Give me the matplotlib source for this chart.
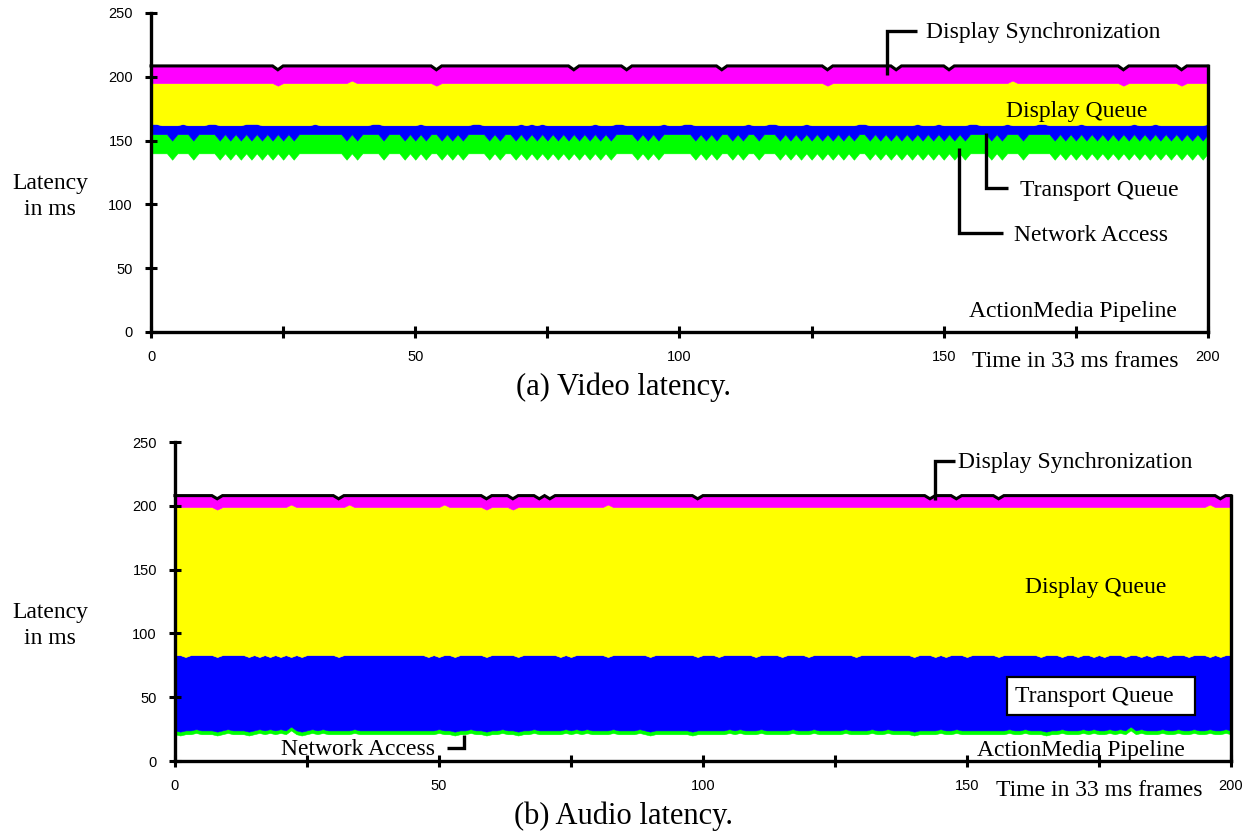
import matplotlib
matplotlib.use("Agg")
import matplotlib.pyplot as plt
import numpy as np
from matplotlib.patches import Rectangle

# ---------------- data ----------------
frames = np.arange(201)  # time in 33 ms frames, 0..200

x_ticks = [0, 25, 50, 75, 100, 125, 150, 175, 200]
x_tick_labels = ["0", "", "50", "", "100", "", "150", "", "200"]
y_ticks = [0, 50, 100, 150, 200, 250]
y_tick_labels = ["0", "50", "100", "150", "200", "250"]

layer_names = ["ActionMedia Pipeline", "Network Access", "Transport Queue",
               "Display Queue", "Display Synchronization"]
layer_colors = ["#ffffff", "#00ff00", "#0000ff", "#ffff00", "#ff00ff"]

# (a) Video latency, per-stage latency in ms
video_pipeline = [
140,140,140,140,135,140,140,140,135,140,140,140,140,135,140,135,140,135,140,135,
140,135,140,135,140,135,140,135,140,140,140,140,140,140,140,140,140,135,140,135,
140,140,140,140,135,140,140,140,135,140,135,140,135,140,140,135,140,135,140,135,
140,140,140,140,135,140,135,140,140,135,140,135,140,135,140,135,140,135,140,135,
140,135,140,135,140,135,140,135,140,140,140,140,135,140,135,140,135,140,140,140,
140,140,140,135,140,135,140,135,140,140,135,140,135,140,140,135,140,140,140,135,
140,135,140,135,140,135,140,135,140,135,140,135,140,135,140,140,135,140,135,140,
135,140,135,140,135,140,135,140,135,140,135,140,135,140,135,140,140,140,140,135,
140,135,140,140,140,135,140,140,140,140,140,135,140,135,140,135,140,135,140,135,
140,135,140,135,140,135,140,135,140,135,140,135,140,135,140,135,140,135,140,135,
140]
video_network = [
15,15,15,15,15,15,15,15,15,15,15,15,15,15,15,15,15,15,15,15,
15,15,15,15,15,15,15,15,15,15,15,15,15,15,15,15,15,15,15,15,
15,15,15,15,15,15,15,15,15,15,15,15,15,15,15,15,15,15,15,15,
15,15,15,15,15,15,15,15,15,15,15,15,15,15,15,15,15,15,15,15,
15,15,15,15,15,15,15,15,15,15,15,15,15,15,15,15,15,15,15,15,
15,15,15,15,15,15,15,15,15,15,15,15,15,15,15,15,15,15,15,15,
15,15,15,15,15,15,15,15,15,15,15,15,15,15,15,15,15,15,15,15,
15,15,15,15,15,15,15,15,15,15,15,15,15,15,15,15,15,15,15,15,
15,15,15,15,15,15,15,15,15,15,15,15,15,15,15,15,15,15,15,15,
15,15,15,15,15,15,15,15,15,15,15,15,15,15,15,15,15,15,15,15,
15]
video_transport = [
8,8,7,7,12,7,8,7,12,7,7,8,8,12,7,12,7,12,8,13,
8,12,7,12,7,12,7,12,7,7,7,8,7,7,7,7,7,12,7,12,
7,7,8,8,12,7,7,7,12,7,12,8,12,7,7,12,7,12,7,12,
7,8,8,7,12,7,12,7,7,12,8,12,8,12,8,12,7,12,7,12,
7,12,7,12,8,12,7,12,8,8,7,7,12,7,12,7,12,8,7,7,
7,8,8,12,7,12,7,12,7,7,12,7,12,8,7,12,7,8,8,12,
7,12,7,12,8,12,7,12,7,12,7,12,7,12,8,8,12,7,12,7,
12,7,12,7,12,8,12,7,12,8,12,7,12,7,12,8,8,7,7,12,
7,12,8,7,7,12,7,7,8,8,7,12,7,12,7,12,8,12,7,12,
7,12,7,12,7,12,8,12,7,12,8,12,7,12,7,12,7,12,7,12,
8]
video_display_queue = [
32,32,33,33,33,33,32,33,33,33,33,32,32,33,33,33,33,33,32,32,
32,33,33,33,31,33,33,33,33,33,33,32,33,33,33,33,33,33,35,33,
33,33,32,32,33,33,33,33,33,33,33,32,33,33,31,33,33,33,33,33,
33,32,32,33,33,33,33,33,33,33,32,33,32,33,32,33,33,33,33,33,
33,33,33,33,32,33,33,33,32,32,33,33,33,33,33,33,33,32,33,33,
33,32,32,33,33,33,33,33,33,33,33,33,33,32,33,33,33,32,32,33,
33,33,33,33,32,33,33,33,31,33,33,33,33,33,32,32,33,33,33,33,
33,33,33,33,33,32,33,33,33,32,33,33,33,33,33,32,32,33,33,33,
33,33,32,35,33,33,33,33,32,32,33,33,33,33,33,33,32,33,33,33,
33,33,33,33,31,33,32,33,33,33,32,33,33,33,33,31,33,33,33,33,
32]
video_sync = [
13.5,13.5,13.5,13.5,13.5,13.5,13.5,13.5,13.5,13.5,13.5,13.5,13.5,13.5,13.5,13.5,13.5,13.5,13.5,13.5,
13.5,13.5,13.5,13.5,12.5,13.5,13.5,13.5,13.5,13.5,13.5,13.5,13.5,13.5,13.5,13.5,13.5,13.5,11.5,13.5,
13.5,13.5,13.5,13.5,13.5,13.5,13.5,13.5,13.5,13.5,13.5,13.5,13.5,13.5,12.5,13.5,13.5,13.5,13.5,13.5,
13.5,13.5,13.5,13.5,13.5,13.5,13.5,13.5,13.5,13.5,13.5,13.5,13.5,13.5,13.5,13.5,13.5,13.5,13.5,13.5,
10.5,13.5,13.5,13.5,13.5,13.5,13.5,13.5,13.5,13.5,10.5,13.5,13.5,13.5,13.5,13.5,13.5,13.5,13.5,13.5,
13.5,13.5,13.5,13.5,13.5,13.5,13.5,13.5,10.5,13.5,13.5,13.5,13.5,13.5,13.5,13.5,13.5,13.5,13.5,13.5,
13.5,13.5,13.5,13.5,13.5,13.5,13.5,13.5,12.5,13.5,13.5,13.5,13.5,13.5,13.5,13.5,13.5,13.5,13.5,13.5,
13.5,10.5,13.5,13.5,13.5,13.5,13.5,13.5,13.5,13.5,13.5,10.5,13.5,13.5,13.5,13.5,13.5,13.5,13.5,13.5,
13.5,13.5,13.5,11.5,13.5,13.5,13.5,13.5,13.5,13.5,13.5,13.5,13.5,13.5,13.5,13.5,13.5,13.5,13.5,13.5,
13.5,13.5,13.5,13.5,12.5,13.5,13.5,13.5,13.5,13.5,13.5,13.5,13.5,13.5,13.5,12.5,13.5,13.5,13.5,13.5,
13.5]

# (b) Audio latency, per-stage latency in ms
audio_pipeline = [
21,20,21,21,22,21,21,21,20,21,22,21,21,21,20,21,22,21,22,21,
22,21,24,21,20,21,22,21,22,21,21,21,21,21,22,21,21,21,21,21,
21,21,21,21,21,21,21,21,21,21,22,21,21,20,21,21,22,21,21,20,
21,21,22,21,21,20,21,21,22,21,21,21,21,21,22,21,22,21,22,21,
21,21,21,22,21,21,21,21,22,21,20,21,21,21,21,21,21,21,20,21,
21,21,21,21,21,22,21,22,21,21,21,22,21,21,21,21,21,22,21,21,
21,22,21,21,21,21,21,22,21,21,21,21,22,21,21,22,21,21,21,21,
20,21,21,21,21,22,21,21,22,21,21,21,21,21,21,21,21,21,22,21,
21,22,21,21,21,20,21,21,22,21,21,21,22,21,22,21,21,22,21,22,
21,24,21,22,21,21,21,22,21,21,22,21,21,22,21,21,22,21,21,22,
21]
audio_network = [
3,3,3,3,3,3,3,3,3,3,3,3,3,3,3,3,3,3,3,3,
3,3,3,3,3,3,3,3,3,3,3,3,3,3,3,3,3,3,3,3,
3,3,3,3,3,3,3,3,3,3,3,3,3,3,3,3,3,3,3,3,
3,3,3,3,3,3,3,3,3,3,3,3,3,3,3,3,3,3,3,3,
3,3,3,3,3,3,3,3,3,3,3,3,3,3,3,3,3,3,3,3,
3,3,3,3,3,3,3,3,3,3,3,3,3,3,3,3,3,3,3,3,
3,3,3,3,3,3,3,3,3,3,3,3,3,3,3,3,3,3,3,3,
3,3,3,3,3,3,3,3,3,3,3,3,3,3,3,3,3,3,3,3,
3,3,3,3,3,3,3,3,3,3,3,3,3,3,3,3,3,3,3,3,
3,3,3,3,3,3,3,3,3,3,3,3,3,3,3,3,3,3,3,3,
3]
audio_transport = [
59,60,57.5,59,58,59,59,59,58.5,59,58,59,59,59,58.5,59,56.5,59,56.5,59,
56.5,59,54.5,59,58.5,59,58,59,58,59,59,57.5,59,59,58,59,59,59,59,59,
59,59,59,59,59,59,59,59,57.5,59,56.5,59,59,58.5,59,59,58,59,59,58.5,
59,59,58,59,59,58.5,59,59,58,59,59,59,59,57.5,58,57.5,58,59,58,59,
59,59,57.5,58,59,59,59,59,58,59,58.5,59,59,59,59,59,59,59,60,57.5,
59,59,59,57.5,59,58,59,58,59,59,57.5,58,59,59,59,57.5,59,58,59,59,
57.5,58,59,59,59,59,59,58,59,57.5,59,59,58,59,59,58,59,59,59,59,
58.5,59,59,59,57.5,58,57.5,59,58,59,57.5,59,59,59,59,59,57.5,59,58,59,
59,58,59,59,57.5,60,59,59,56.5,59,59,57.5,58,59,56.5,59,57.5,58,59,58,
57.5,56,59,56.5,59,57.5,59,58,57.5,59,58,59,57.5,58,59,59,56.5,59,57.5,58,
59]
audio_display_queue = [
116,116,117.5,116,116,116,116,116,115.5,116,116,116,116,116,117.5,116,117.5,116,117.5,116,
117.5,116,119.5,116,117.5,116,116,116,116,116,116,117.5,116,118,116,116,116,116,116,116,
116,116,116,116,116,116,116,116,117.5,116,117.5,118,116,117.5,116,116,116,116,116,115.5,
116,116,116,116,114,117.5,116,116,116,116,116,116,116,117.5,116,117.5,116,116,116,116,
116,116,119.5,116,116,116,116,116,116,116,117.5,116,116,116,116,116,116,116,116,117.5,
116,116,116,117.5,116,116,116,116,116,116,117.5,116,116,116,116,117.5,116,116,116,116,
117.5,116,116,116,116,116,116,116,116,117.5,116,116,116,116,116,116,116,116,116,116,
117.5,116,116,116,117.5,116,117.5,116,116,116,117.5,116,116,116,116,116,117.5,116,116,116,
116,116,116,116,117.5,116,116,116,117.5,116,116,117.5,116,116,117.5,116,117.5,116,116,116,
117.5,116,116,117.5,116,117.5,116,116,117.5,116,116,116,117.5,116,116,116,119.5,116,117.5,116,
116]
audio_sync = [
9,9,9,9,9,9,9,9,8.5,9,9,9,9,9,9,9,9,9,9,9,
9,9,7,9,9,9,9,9,9,9,9,6.5,9,7,9,9,9,9,9,9,
9,9,9,9,9,9,9,9,9,9,9,7,9,9,9,9,9,9,9,8.5,
9,9,9,9,8.5,9,9,9,9,6.5,9,6.5,9,9,9,9,9,9,9,9,
9,9,7,9,9,9,9,9,9,9,9,9,9,9,9,9,9,9,9,6.5,
9,9,9,9,9,9,9,9,9,9,9,9,9,9,9,9,9,9,9,9,
9,9,9,9,9,9,9,9,9,9,9,9,9,9,9,9,9,9,9,9,
9,9,9,6.5,9,9,9,9,6.5,9,9,9,9,9,9,9,6.5,9,9,9,
9,9,9,9,9,9,9,9,9,9,9,9,9,9,9,9,9,9,9,9,
9,9,9,9,9,9,9,9,9,9,9,9,9,9,9,9,7,9,6.5,9,
9]

# ---------------- figure ----------------
SERIF = "Liberation Serif"
SANS = "Liberation Sans"
ANN = 17

fig = plt.figure(figsize=(12.47, 8.31), dpi=100)
ax1 = fig.add_axes([0.1211, 0.6005, 0.8476, 0.3839])
ax2 = fig.add_axes([0.1403, 0.0842, 0.8468, 0.3839])


def draw_stack(ax, layers):
    ax.stackplot(frames, *layers, colors=layer_colors, labels=layer_names,
                 linewidth=0.4, edgecolor="face")
    total = np.sum(np.array(layers, dtype=float), axis=0)
    ax.plot(frames, total, color="black", lw=2.2, solid_joinstyle="miter",
            clip_on=False, zorder=3)
    ax.plot([frames[-1], frames[-1]], [0, total[-1]], color="black", lw=2.4,
            clip_on=False, zorder=3)


def style(ax):
    ax.set_xlim(0, 200)
    ax.set_ylim(0, 250)
    for sp in ["top", "right"]:
        ax.spines[sp].set_visible(False)
    for sp in ["left", "bottom"]:
        ax.spines[sp].set_linewidth(2.4)
    ax.set_xticks(x_ticks)
    ax.set_xticklabels(x_tick_labels)
    ax.set_yticks(y_ticks)
    ax.set_yticklabels(y_tick_labels)
    ax.tick_params(direction="inout", length=8, width=2.2, labelsize=10.5, pad=9)
    for lab in ax.get_xticklabels() + ax.get_yticklabels():
        lab.set_fontfamily(SANS)


def leader(ax, xs, ys):
    ax.plot(xs, ys, color="black", lw=2.4, clip_on=False, zorder=4,
            solid_joinstyle="miter", solid_capstyle="butt")


def label(ax, x, y, s, ha="left"):
    ax.text(x, y, s, fontsize=ANN, family=SERIF, ha=ha, va="baseline",
            clip_on=False, zorder=5)


# ---- (a) video ----
draw_stack(ax1, [video_pipeline, video_network, video_transport,
                 video_display_queue, video_sync])
style(ax1)
leader(ax1, [139.3, 139.3, 144.9], [201.4, 236.1, 236.1])
label(ax1, 146.6, 230.2, "Display Synchronization")
label(ax1, 161.8, 168.7, "Display Queue")
leader(ax1, [158.0, 158.0, 162.2], [156.0, 112.9, 112.9])
label(ax1, 164.4, 106.6, "Transport Queue")
leader(ax1, [152.9, 152.9, 161.2], [144.2, 77.6, 77.6])
label(ax1, 163.3, 71.6, "Network Access")
label(ax1, 154.8, 11.8, "ActionMedia Pipeline")
label(ax1, 155.3, -27.4, "Time in 33 ms frames")

# ---- (b) audio ----
draw_stack(ax2, [audio_pipeline, audio_network, audio_transport,
                 audio_display_queue, audio_sync])
style(ax2)
leader(ax2, [143.9, 143.9, 147.7], [204.5, 235.3, 235.3])
label(ax2, 148.4, 229.4, "Display Synchronization")
label(ax2, 161.0, 131.4, "Display Queue")
ax2.add_patch(Rectangle((157.6, 36.05), 35.6, 29.75, facecolor="white",
                        edgecolor="black", lw=1.6, zorder=4))
label(ax2, 159.1, 46.5, "Transport Queue")
label(ax2, 49.2, 4.7, "Network Access", ha="right")
leader(ax2, [51.5, 54.7, 54.7], [9.9, 9.9, 20.4])
label(ax2, 151.9, 3.9, "ActionMedia Pipeline")
label(ax2, 155.5, -27.4, "Time in 33 ms frames")

# ---- captions and y labels ----
fig.text(0.4996, 0.5345, "(a) Video latency.", fontsize=22, family=SERIF,
         ha="center", va="center")
fig.text(0.4996, 0.0175, "(b) Audio latency.", fontsize=22, family=SERIF,
         ha="center", va="center")
fig.text(0.0401, 0.7640, "Latency\nin ms", fontsize=ANN, family=SERIF,
         ha="center", va="center", linespacing=1.3)
fig.text(0.0401, 0.2477, "Latency\nin ms", fontsize=ANN, family=SERIF,
         ha="center", va="center", linespacing=1.3)

fig.savefig("out.png", dpi=100)
